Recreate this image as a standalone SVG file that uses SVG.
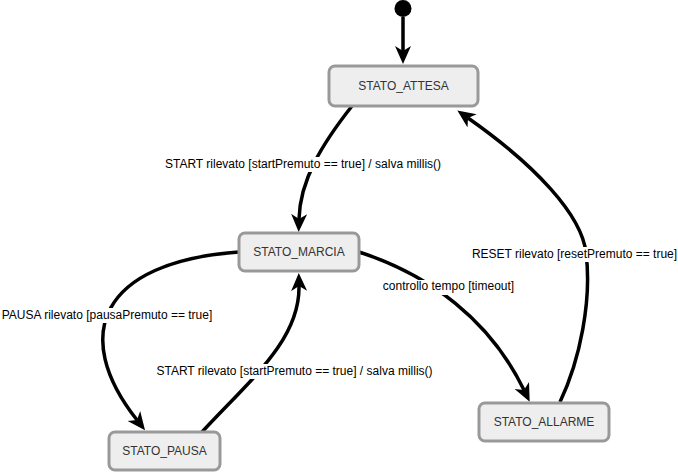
<svg xmlns="http://www.w3.org/2000/svg" width="678" height="474" viewBox="0 0 678 474">
<style>
.node rect{fill:#eeeeee;stroke:#999999;stroke-width:3}
.node text{font-family:"Liberation Sans",Arial,sans-serif;font-size:12px;fill:#333333;text-anchor:middle}
.edge{fill:none;stroke:#000000;stroke-width:3.5;marker-end:url(#arr)}
.lbl rect{fill:#ffffff}
.lbl text{font-family:"Liberation Sans",Arial,sans-serif;font-size:12px;fill:#000000;text-anchor:middle}
</style>
<defs>
<marker id="arr" markerUnits="userSpaceOnUse" markerWidth="18" markerHeight="18" viewBox="0 0 18 18" refX="5" refY="9" orient="auto">
<path d="M0,1 L18,9 L0,17 L5,9 z" fill="#000000"/>
</marker>
</defs>
<rect width="678" height="474" fill="#ffffff"/>
<g id="connectors">
<path class="edge" d="M403,17 L403,51"/>
<path class="edge" d="M352,106 C322,144 300,180 299,219"/>
<path class="edge" d="M239,252 C100,262 70,335 137,420"/>
<path class="edge" d="M202,432 C250,380 300,340 299,286"/>
<path class="edge" d="M359,252 C430,275 490,320 524,390"/>
<path class="edge" d="M560,402 C580,360 592,300 586,253 C582,215 535,165 468,118"/>
<g class="lbl">
<rect x="161" y="157" width="284" height="15"/>
<text x="303" y="168">START rilevato [startPremuto == true] / salva millis()</text>
<rect x="1" y="308" width="212" height="15"/>
<text x="107" y="319">PAUSA rilevato [pausaPremuto == true]</text>
<rect x="153" y="364" width="283" height="15"/>
<text x="294.5" y="375">START rilevato [startPremuto == true] / salva millis()</text>
<rect x="381" y="280" width="135" height="15"/>
<text x="448.5" y="290">controllo tempo [timeout]</text>
<rect x="471" y="247" width="207" height="15"/>
<text x="574.5" y="258">RESET rilevato [resetPremuto == true]</text>
</g>
</g>
<g id="initial">
<circle cx="403" cy="8.5" r="8.5" fill="#000000"/>
</g>
<g id="STATO_ATTESA" class="node">
<rect x="329" y="66" width="149" height="40" rx="6"/>
<text x="403.5" y="90">STATO_ATTESA</text>
</g>
<g id="STATO_MARCIA" class="node">
<rect x="239" y="233" width="120" height="38" rx="6"/>
<text x="299" y="256">STATO_MARCIA</text>
</g>
<g id="STATO_PAUSA" class="node">
<rect x="109" y="432" width="111" height="38" rx="6"/>
<text x="164.5" y="455">STATO_PAUSA</text>
</g>
<g id="STATO_ALLARME" class="node">
<rect x="479" y="403" width="130" height="38" rx="6"/>
<text x="544" y="426">STATO_ALLARME</text>
</g>
</svg>
